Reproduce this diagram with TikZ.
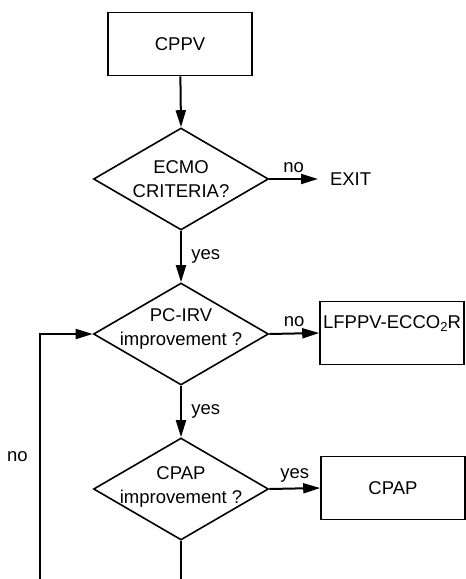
\documentclass[tikz,border=0pt]{standalone}
\usepackage{fontspec}
\setmainfont{Liberation Sans}
\usepackage{tikz}
\usetikzlibrary{arrows.meta,shapes.geometric}

\begin{document}
\begin{tikzpicture}[x=1pt,y=1pt,line width=2pt,
    font=\fontsize{18.5}{24}\selectfont,
    box/.style={draw,rectangle,line width=1.6pt,minimum width=144pt,minimum height=63pt,inner sep=0pt},
    decision/.style={draw,diamond,line width=1.6pt,minimum width=175pt,minimum height=102pt,inner sep=0pt},
    flow/.style={-{Triangle[length=17pt,width=10pt]}}]
  \useasboundingbox (0,0) rectangle (466,-579);
  % Boxes
  \node[box] (cppv) at (180,-44) {CPPV};
  \node[box,text height=13pt,text depth=22pt] (lfppv) at (392,-333)
    {LFPPV-ECCO\raisebox{-0.35ex}{\fontsize{13}{13}\selectfont 2}R};
  \node[box] (cpap) at (393,-488) {CPAP};
  \node[anchor=west,inner sep=0pt,inner xsep=11pt] (exit) at (318,-179) {EXIT};
  % Decisions
  \node[decision] (ecmo) at (181,-179) {};
  \node[align=center] (ecmotxt) at (ecmo) {ECMO\\CRITERIA?};
  \node[decision] (pcirv) at (181,-334) {};
  \node[align=center] (pcirvtxt) at ([yshift=5pt]pcirv) {PC-IRV\\improvement ?};
  \node[decision] (cpapq) at (181,-489) {};
  \node[align=center] (cpapqtxt) at ([yshift=2pt]cpapq) {CPAP\\improvement ?};
  % Loose ends at the bottom edge
  \coordinate (loopend) at (40,-579);
  \coordinate (downend) at (181,-579);
  % Connectors
  \draw[flow] (cppv) -- (ecmo.north);
  \draw[flow] (ecmo.east) -- node[above=2pt] {no} (exit.west);
  \draw[flow] (ecmo.south) -- node[right=6pt] {yes} (pcirv.north);
  \draw[flow] (pcirv.east) -- node[above=2pt] {no} (lfppv.west);
  \draw[flow] (pcirv.south) -- node[right=6pt] {yes} (cpapq.north);
  \draw[flow] (cpapq.east) -- node[above=2pt] {yes} (cpap.west);
  \draw (cpapq.south) -- (downend);
  \draw[flow] (loopend) |- node[pos=0.25,left=8pt] {no} (pcirv.west);
\end{tikzpicture}
\end{document}
